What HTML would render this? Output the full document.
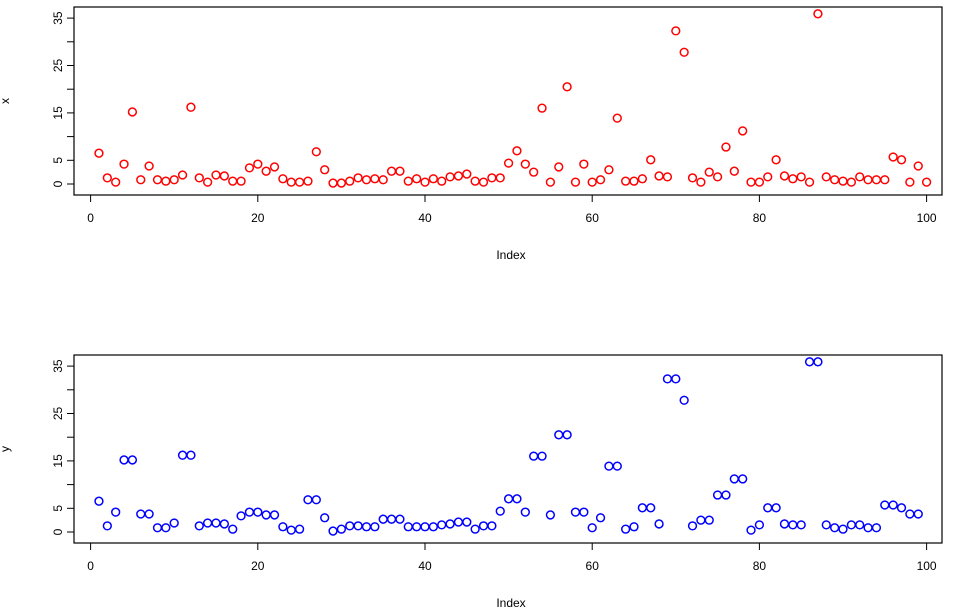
<!DOCTYPE html>
<html><head><meta charset="utf-8"><style>
body{margin:0;background:#fff;}
svg{display:block;font-family:"Liberation Sans",sans-serif;}
</style></head><body>
<svg id="chart" width="964" height="615" xmlns="http://www.w3.org/2000/svg"></svg>
<script>
const xValues=[6.5,1.3,0.4,4.2,15.2,0.9,3.8,0.9,0.6,0.9,1.9,16.2,1.3,0.4,1.9,1.7,0.6,0.6,3.4,4.2,2.7,3.6,1.1,0.4,0.4,0.6,6.8,3.0,0.2,0.2,0.6,1.3,0.9,1.1,0.9,2.7,2.7,0.6,1.1,0.4,1.1,0.6,1.5,1.7,2.1,0.6,0.4,1.3,1.3,4.4,7.0,4.2,2.5,16.0,0.4,3.6,20.5,0.4,4.2,0.4,0.9,3.0,13.9,0.6,0.6,1.1,5.1,1.7,1.5,32.3,27.8,1.3,0.4,2.5,1.5,7.8,2.7,11.2,0.4,0.4,1.5,5.1,1.7,1.1,1.5,0.4,35.9,1.5,0.9,0.6,0.4,1.5,0.9,0.9,0.9,5.7,5.1,0.4,3.8,0.4];
const yValues=[6.5,1.3,4.2,15.2,15.2,3.8,3.8,0.9,0.9,1.9,16.2,16.2,1.3,1.9,1.9,1.7,0.6,3.4,4.2,4.2,3.6,3.6,1.1,0.4,0.6,6.8,6.8,3.0,0.2,0.6,1.3,1.3,1.1,1.1,2.7,2.7,2.7,1.1,1.1,1.1,1.1,1.5,1.7,2.1,2.1,0.6,1.3,1.3,4.4,7.0,7.0,4.2,16.0,16.0,3.6,20.5,20.5,4.2,4.2,0.9,3.0,13.9,13.9,0.6,1.1,5.1,5.1,1.7,32.3,32.3,27.8,1.3,2.5,2.5,7.8,7.8,11.2,11.2,0.4,1.5,5.1,5.1,1.7,1.5,1.5,35.9,35.9,1.5,0.9,0.6,1.5,1.5,0.9,0.9,5.7,5.7,5.1,3.8,3.8];
const xTicks=[0,20,40,60,80,100];
const yTicks=[0,5,10,15,20,25,30,35];
const yTickLabels=["0","5","","15","","25","","35"];

const NS="http://www.w3.org/2000/svg";
const svg=document.getElementById('chart');
function mk(tag,attrs,parent){const e=document.createElementNS(NS,tag);for(const k in attrs)e.setAttribute(k,attrs[k]);(parent||svg).appendChild(e);return e;}
const sx=v=>90.6+v*8.36;

function panel(vals,top,color,ylab,prefix){
  const g=mk('g',{});
  
  
  const y0=top+177, k=4.74;
  const sy=v=>y0-v*k;
  const fr=mk('rect',{x:74,y:top,width:868,height:188,fill:'none',stroke:'#000','stroke-width':1.2},g);
  
  
  const bot=top+188;
  xTicks.forEach(t=>{
    const l=mk('line',{x1:sx(t),x2:sx(t),y1:bot,y2:bot+7,stroke:'#000'},g);
    
    
    const tx=mk('text',{x:sx(t),y:bot+27,'text-anchor':'middle','font-size':12},g);
    tx.textContent=t;
    
    
  });
  mk('line',{x1:sx(0),x2:sx(100),y1:bot,y2:bot,stroke:'#000'},g);
  yTicks.forEach((t,i)=>{
    const l=mk('line',{x1:67,x2:74,y1:sy(t),y2:sy(t),stroke:'#000'},g);
    
    
    if(yTickLabels[i]){
      const tx=mk('text',{x:0,y:0,'text-anchor':'middle','font-size':12,transform:`translate(62,${sy(t)}) rotate(-90)`},g);
      tx.textContent=yTickLabels[i];
      
      
    }
  });
  const xt=mk('text',{x:511,y:bot+64,'text-anchor':'middle','font-size':12},g);
  xt.textContent='Index';
  
  
  const yt=mk('text',{x:0,y:0,'text-anchor':'middle','font-size':12,transform:`translate(9,${top+94}) rotate(-90)`},g);
  yt.textContent=ylab;
  
  
  vals.forEach((v,i)=>{
    const c=mk('circle',{cx:sx(i+1),cy:sy(v),r:3.9,fill:'none',stroke:color,'stroke-width':1.5},g);
    
    
  });
}
panel(xValues,7,'#ff0000','x','x');
panel(yValues,355,'#0000ff','y','y');
</script>
</body></html>
